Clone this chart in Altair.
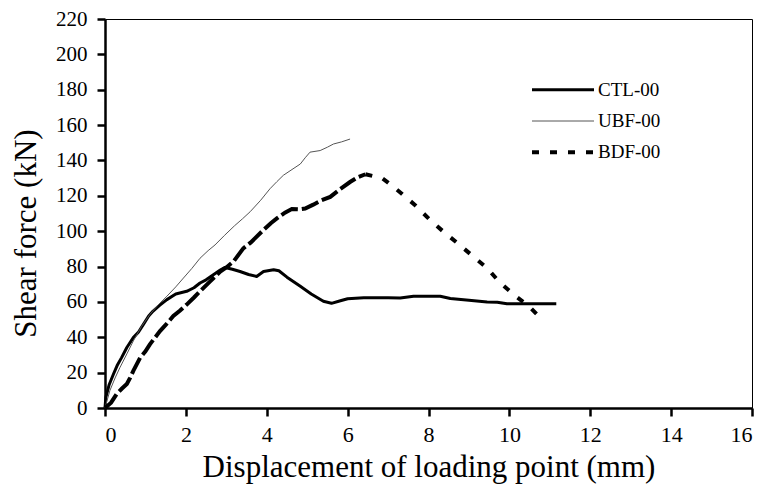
import altair as alt
import pandas as pd

# ---- data ----
series_names = ["CTL-00", "UBF-00", "BDF-00"]

ctl_x = [0, 0.02, 0.1, 0.21, 0.3, 0.41, 0.54, 0.7, 0.83, 0.95, 1.08, 1.19, 1.35, 1.53, 1.75,
         2.02, 2.2, 2.35, 2.5, 2.68, 2.85, 2.97, 3.15, 3.34, 3.55, 3.75, 3.92, 4.17, 4.3, 4.5,
         4.83, 5.1, 5.4, 5.6, 5.8, 6.0, 6.4, 7.0, 7.3, 7.63, 8.29, 8.54, 9.0, 9.45, 9.7, 9.94, 11.16]
ctl_y = [0, 6, 13, 19.2, 24, 28.5, 34.2, 39.8, 43, 47.3, 52, 54.8, 58, 61.3, 64.5,
         66, 68, 70.7, 72.5, 75.4, 78, 79.5, 78.5, 77.2, 75.5, 74.4, 77.2, 78.2, 77.6, 74,
         68.8, 64.5, 60.4, 59.2, 60.5, 61.8, 62.4, 62.4, 62.2, 63.2, 63.2, 61.9, 61, 60, 59.8, 58.9, 58.9]

ubf_x = [0, 0.12, 0.25, 0.37, 0.55, 0.7, 0.9, 1.11, 1.3, 1.53, 1.75, 1.94, 2.15, 2.35, 2.55,
         2.72, 2.95, 3.2, 3.4, 3.59, 3.85, 4.08, 4.25, 4.41, 4.6, 4.83, 4.95, 5.07, 5.32, 5.5,
         5.65, 5.85, 6.06]
ubf_y = [0, 9.8, 17, 22.9, 31, 37.9, 46, 52.9, 58, 63.2, 68.5, 73.5, 79, 84.7, 89,
         92.2, 97.5, 103, 107, 111, 117.5, 124, 128, 131.6, 134.5, 138, 141.5, 144.7, 145.6, 147.5,
         149.3, 150.5, 152.1]

bdf_x = [0, 0.15, 0.29, 0.42, 0.54, 0.62, 0.7, 0.87, 1.0, 1.11, 1.36, 1.5, 1.69, 1.85, 2.02,
         2.2, 2.35, 2.6, 2.85, 3.0, 3.18, 3.42, 3.6, 3.92, 4.1, 4.25, 4.45, 4.62, 4.8, 4.95,
         5.15, 5.36, 5.57, 5.8, 6.06, 6.25, 6.44, 6.85, 7.0, 7.34, 7.67, 8.04, 8.37, 8.75, 9.08,
         9.45, 9.74, 10.1, 10.48, 10.78]
bdf_y = [0, 3, 8, 11, 13.6, 17, 21, 28.5, 32, 36, 43.5, 47, 52, 55, 58.5,
         62.5, 66, 71.6, 77.2, 79.5, 82.9, 90.3, 93.5, 100.7, 104.5, 107.2, 110.5, 112.5, 112.3, 112.8,
         115, 117.5, 119.4, 123.5, 127.8, 130.5, 132.2, 130, 127.5, 121.2, 114.7, 106.3, 99.7, 92.6, 86.2,
         79.1, 71.6, 64.2, 57.6, 50.7]

x_ticks = [0, 2, 4, 6, 8, 10, 12, 14, 16]
y_ticks = [0, 20, 40, 60, 80, 100, 120, 140, 160, 180, 200, 220]

FONT = "Liberation Serif"

# line styles per series
styles = {
    "CTL-00": dict(color="#000000", strokeWidth=3),
    "UBF-00": dict(color="#555555", strokeWidth=1),
    "BDF-00": dict(color="#000000", strokeWidth=4, strokeDash=[7, 11]),
}


def table(xs, ys):
    return pd.DataFrame({"x": xs, "y": ys, "order": list(range(len(xs)))})


peak = bdf_y.index(max(bdf_y))

xenc = alt.X("x:Q", scale=alt.Scale(domain=[0, 16], nice=False),
             axis=alt.Axis(values=x_ticks, title="Displacement of loading point (mm)",
                           labelPadding=8, titleBaseline="alphabetic", titleY=68,
                           labelOverlap=False))
yenc = alt.Y("y:Q", scale=alt.Scale(domain=[0, 220], nice=False),
             axis=alt.Axis(values=y_ticks, title="Shear force (kN)", labelPadding=10,
                           labelFontSize=21,
                           titleBaseline="alphabetic", titleX=-70, titleY=214, titleAngle=270,
                           labelOverlap=False))
order = alt.Order("order:Q")

layers = []
ctl = alt.Chart(table(ctl_x, ctl_y)).mark_line(strokeCap="butt", strokeJoin="round",
                                               **styles["CTL-00"]).encode(
    x=xenc, y=yenc, order=order)
ubf = alt.Chart(table(ubf_x, ubf_y)).mark_line(strokeJoin="round", **styles["UBF-00"]).encode(
    x=xenc, y=yenc, order=order)
# BDF: rising part drawn dense (as in the reference), descending part with the series dash
bdf_rise = alt.Chart(table(bdf_x[:peak + 1], bdf_y[:peak + 1])).mark_line(
    color="#000000", strokeWidth=4, strokeDash=[18, 4], strokeCap="butt").encode(
    x=xenc, y=yenc, order=order)
bdf_fall = alt.Chart(table(bdf_x[peak:], bdf_y[peak:])).mark_line(
    strokeCap="butt", **styles["BDF-00"]).encode(x=xenc, y=yenc, order=order)
layers += [ctl, ubf, bdf_rise, bdf_fall]

legend_y = [70.7, 102, 133.3]
for i, name in enumerate(series_names):
    d = pd.DataFrame({"series": [name]})
    layers.append(alt.Chart(d).mark_rule(strokeCap="butt", **styles[name]).encode(
        x=alt.value(427), x2=alt.value(489), y=alt.value(legend_y[i])))
    layers.append(alt.Chart(d).mark_text(align="left", baseline="middle", font=FONT,
                                         fontSize=19, color="black").encode(
        x=alt.value(493), y=alt.value(legend_y[i]), text="series:N"))

chart = alt.layer(*layers).properties(
    width=647, height=389,
    background="white",
    autosize=alt.AutoSizeParams(type="none"),
    padding={"left": 97, "top": 11, "right": 10, "bottom": 77},
).configure_view(stroke="#000000", strokeWidth=1).configure_axis(
    grid=False, domainColor="black", domainWidth=2.5, tickColor="black", tickWidth=2.5,
    tickSize=8, labelFont=FONT, labelFontSize=22, labelColor="black",
    titleFont=FONT, titleFontSize=31, titleFontWeight="normal", titleColor="black",
)

chart.save("out.html", embed_options={"renderer": "svg", "actions": False})
